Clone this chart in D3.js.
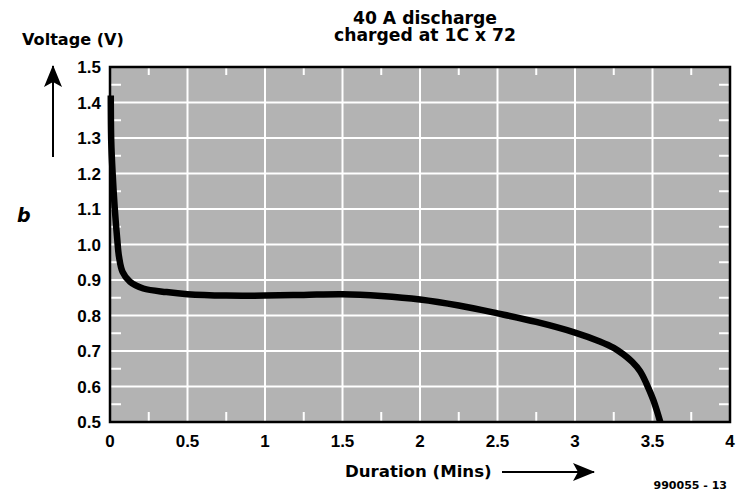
<!DOCTYPE html>
<html>
<head>
<meta charset="utf-8">
<script src="https://cdn.jsdelivr.net/npm/d3@7"></script>
<style>
  body { margin: 0; background: #fff; }
  svg { display: block; font-family: "DejaVu Sans", sans-serif; font-weight: bold; }
  .tick-label { font-family: "Liberation Sans", Arial, sans-serif; }
</style>
</head>
<body>
<svg id="chart" width="739" height="495"></svg>
<script>
// discharge curve
const durationMins = [0.005, 0.008, 0.017, 0.03, 0.047, 0.058, 0.081, 0.129, 0.215, 0.365, 0.5, 0.75, 1.0, 1.25, 1.5, 1.75, 2.0, 2.25, 2.5, 2.75, 3.0, 3.16, 3.25, 3.31, 3.37, 3.42, 3.46, 3.505, 3.55];
const voltage = [1.42, 1.29, 1.2, 1.106, 1.013, 0.966, 0.923, 0.895, 0.876, 0.866, 0.86, 0.856, 0.856, 0.858, 0.86, 0.855, 0.845, 0.828, 0.806, 0.782, 0.752, 0.727, 0.709, 0.691, 0.669, 0.643, 0.609, 0.562, 0.5];

const xTicks = [0, 0.5, 1, 1.5, 2, 2.5, 3, 3.5, 4];
const xTickLabels = ["0", "0.5", "1", "1.5", "2", "2.5", "3", "3.5", "4"];
const yTicks = [0.5, 0.6, 0.7, 0.8, 0.9, 1.0, 1.1, 1.2, 1.3, 1.4, 1.5];
const yTickLabels = ["0.5", "0.6", "0.7", "0.8", "0.9", "1.0", "1.1", "1.2", "1.3", "1.4", "1.5"];
const xMinor = [0.25, 0.75, 1.25, 1.75, 2.25, 2.75, 3.25, 3.75];
const yMinor = [0.55, 0.65, 0.75, 0.85, 0.95, 1.05, 1.15, 1.25, 1.35, 1.45];

const titleLines = ["40 A discharge", "charged at 1C x 72"];

const draw = () => {
    const margin = { top: 67, right: 9, bottom: 73, left: 110 };
    const width = 739, height = 495;

    const xScale = d3.scaleLinear().domain([0, 4]).range([margin.left, width - margin.right]);
    const yScale = d3.scaleLinear().domain([0.5, 1.5]).range([height - margin.bottom, margin.top]);

    const svg = d3.select("#chart");

    // arrow marker
    svg.append("defs").append("marker")
        .attr("id", "arrow")
        .attr("viewBox", "0 0 22 20")
        .attr("refX", 21).attr("refY", 10)
        .attr("markerWidth", 22).attr("markerHeight", 20)
        .attr("markerUnits", "userSpaceOnUse")
        .attr("orient", "auto")
        .append("path")
        .attr("d", "M0,1 L22,10 L0,19 L5,10 Z")
        .attr("fill", "#000");

    // plot background
    svg.append("rect")
        .attr("x", xScale(0)).attr("y", yScale(1.5))
        .attr("width", xScale(4) - xScale(0))
        .attr("height", yScale(0.5) - yScale(1.5))
        .attr("fill", "#b3b3b3");

    // grid
    svg.append("g").selectAll("line").data(xTicks.slice(1, -1)).join("line")
        .attr("x1", d => xScale(d)).attr("x2", d => xScale(d))
        .attr("y1", yScale(1.5)).attr("y2", yScale(0.5))
        .attr("stroke", "#fff").attr("stroke-width", 2);
    svg.append("g").selectAll("line").data(yTicks.slice(1, -1)).join("line")
        .attr("y1", d => yScale(d)).attr("y2", d => yScale(d))
        .attr("x1", xScale(0)).attr("x2", xScale(4))
        .attr("stroke", "#fff").attr("stroke-width", 2);

    // minor ticks (white, inside)
    const minor = svg.append("g").attr("stroke", "#fff").attr("stroke-width", 2);
    minor.selectAll(".mb").data(xMinor).join("line").attr("class", "mb")
        .attr("x1", d => xScale(d)).attr("x2", d => xScale(d))
        .attr("y1", yScale(0.5)).attr("y2", yScale(0.5) - 10);
    minor.selectAll(".mt").data(xMinor).join("line").attr("class", "mt")
        .attr("x1", d => xScale(d)).attr("x2", d => xScale(d))
        .attr("y1", yScale(1.5)).attr("y2", yScale(1.5) + 8);
    minor.selectAll(".ml").data(yMinor).join("line").attr("class", "ml")
        .attr("y1", d => yScale(d)).attr("y2", d => yScale(d))
        .attr("x1", xScale(0)).attr("x2", xScale(0) + 11);
    minor.selectAll(".mr").data(yMinor).join("line").attr("class", "mr")
        .attr("y1", d => yScale(d)).attr("y2", d => yScale(d))
        .attr("x1", xScale(4)).attr("x2", xScale(4) - 11);

    // curve
    const points = durationMins.map((d, i) => ({ x: d, y: voltage[i] }));
    const createLine = d3.line()
        .x(d => xScale(d.x))
        .y(d => yScale(d.y))
        .curve(d3.curveCatmullRom.alpha(0.5));
    svg.append("path")
        .datum(points)
        .attr("d", createLine)
        .attr("fill", "none")
        .attr("stroke", "#000")
        .attr("stroke-width", 6.5)
        .attr("stroke-linejoin", "round");

    // frame
    svg.append("rect")
        .attr("x", xScale(0)).attr("y", yScale(1.5))
        .attr("width", xScale(4) - xScale(0))
        .attr("height", yScale(0.5) - yScale(1.5))
        .attr("fill", "none").attr("stroke", "#000").attr("stroke-width", 2.5);

    // tick labels
    svg.append("g").selectAll("text").data(xTicks).join("text")
        .attr("class", "tick-label")
        .attr("x", d => xScale(d)).attr("y", 447)
        .attr("text-anchor", "middle")
        .attr("font-size", 17)
        .text((d, i) => xTickLabels[i]);
    svg.append("g").selectAll("text").data(yTicks).join("text")
        .attr("class", "tick-label")
        .attr("x", 101).attr("y", d => yScale(d) + 6)
        .attr("text-anchor", "end")
        .attr("font-size", 17)
        .text((d, i) => yTickLabels[i]);

    // titles
    svg.append("g").selectAll("text").data(titleLines).join("text")
        .attr("x", 425).attr("y", (d, i) => 24 + i * 17)
        .attr("text-anchor", "middle")
        .attr("font-size", 17.2)
        .text(d => d);

    svg.append("text").attr("x", 22).attr("y", 45)
        .attr("font-size", 16.1).text("Voltage (V)");

    svg.append("line")
        .attr("x1", 53).attr("x2", 53).attr("y1", 157).attr("y2", 66)
        .attr("stroke", "#000").attr("stroke-width", 2)
        .attr("marker-end", "url(#arrow)");

    svg.append("text").attr("x", 17).attr("y", 222)
        .attr("font-size", 19).attr("font-style", "italic").text("b");

    svg.append("text").attr("x", 345).attr("y", 477)
        .attr("font-size", 16.6).text("Duration (Mins)");

    svg.append("line")
        .attr("x1", 502).attr("x2", 594).attr("y1", 472).attr("y2", 472)
        .attr("stroke", "#000").attr("stroke-width", 2)
        .attr("marker-end", "url(#arrow)");

    svg.append("text").attr("x", 727).attr("y", 489)
        .attr("text-anchor", "end")
        .attr("font-size", 11).text("990055 - 13");
};

draw();
</script>
</body>
</html>
